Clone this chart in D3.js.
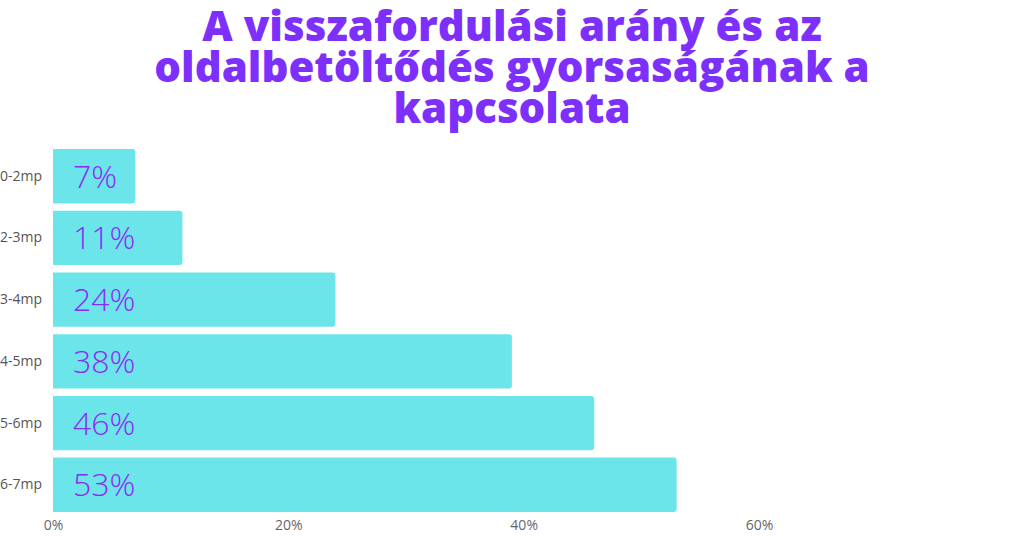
<!DOCTYPE html>
<html><head><meta charset="utf-8">
<script src="https://cdn.jsdelivr.net/npm/d3@7"></script>
<style>
html,body{margin:0;padding:0;background:#fff;}
svg{display:block;font-family:"Open Sans",sans-serif;}
</style></head>
<body>
<svg id="chart" width="1024" height="536"></svg>
<script>
const categories = ["0-2mp","2-3mp","3-4mp","4-5mp","5-6mp","6-7mp"];
const values = [7, 11, 24, 39, 46, 53];
const valueLabels = ["7%","11%","24%","38%","46%","53%"];
const xTicks = [0, 20, 40, 60];
const titleLines = ["A visszafordulási arány és az","oldalbetöltődés gyorsaságának a","kapcsolata"];

const svg = d3.select("#chart");
const x = d3.scaleLinear().domain([0, 60]).range([53, 759]);
const y = d3.scaleBand().domain(categories).range([146, 515]).paddingInner(0.12).paddingOuter(0.05);

// title
svg.append("g").selectAll("text").data(titleLines).join("text")
  .attr("x", 512).attr("y", (d,i) => 41 + i*41)
  .attr("text-anchor","middle")
  .attr("font-size", 42).attr("font-weight", 800)
  .attr("fill", "#7d2ffc")
  .text(d => d);

// bars with right rounded corners
const r = 3;
svg.append("g").selectAll("path").data(values).join("path")
  .attr("fill", "#6be5e9")
  .attr("d", (d,i) => {
    const x0 = x(0), x1 = x(d), y0 = y(categories[i]), h = y.bandwidth();
    const p = d3.path();
    p.moveTo(x0, y0);
    p.lineTo(x1 - r, y0);
    p.quadraticCurveTo(x1, y0, x1, y0 + r);
    p.lineTo(x1, y0 + h - r);
    p.quadraticCurveTo(x1, y0 + h, x1 - r, y0 + h);
    p.lineTo(x0, y0 + h);
    p.closePath();
    return p.toString();
  });

// value labels
svg.append("g").selectAll("text").data(valueLabels).join("text")
  .attr("x", x(0) + 20)
  .attr("y", (d,i) => y(categories[i]) + y.bandwidth()/2)
  .attr("dy", "0.36em")
  .attr("font-size", 32).attr("font-weight", 360)
  .attr("fill", "#8b2cf5")
  .text(d => d);

// y axis
const yAxis = svg.append("g").attr("transform", `translate(${x(0)-11},0)`)
  .call(d3.axisLeft(y).tickSize(0).tickPadding(0));
yAxis.select(".domain").remove();
yAxis.selectAll("text").attr("font-size", 14).attr("fill", "#555").attr("font-family","\"Open Sans\",sans-serif");

// x axis
const xAxis = svg.append("g").attr("transform", `translate(0,520)`)
  .call(d3.axisBottom(x).tickValues(xTicks).tickFormat(d => d + "%").tickSize(0).tickPadding(0));
xAxis.select(".domain").remove();
xAxis.selectAll("text").attr("font-size", 14).attr("fill", "#666").attr("dy","0.71em").attr("font-family","\"Open Sans\",sans-serif");
</script>
</body></html>
